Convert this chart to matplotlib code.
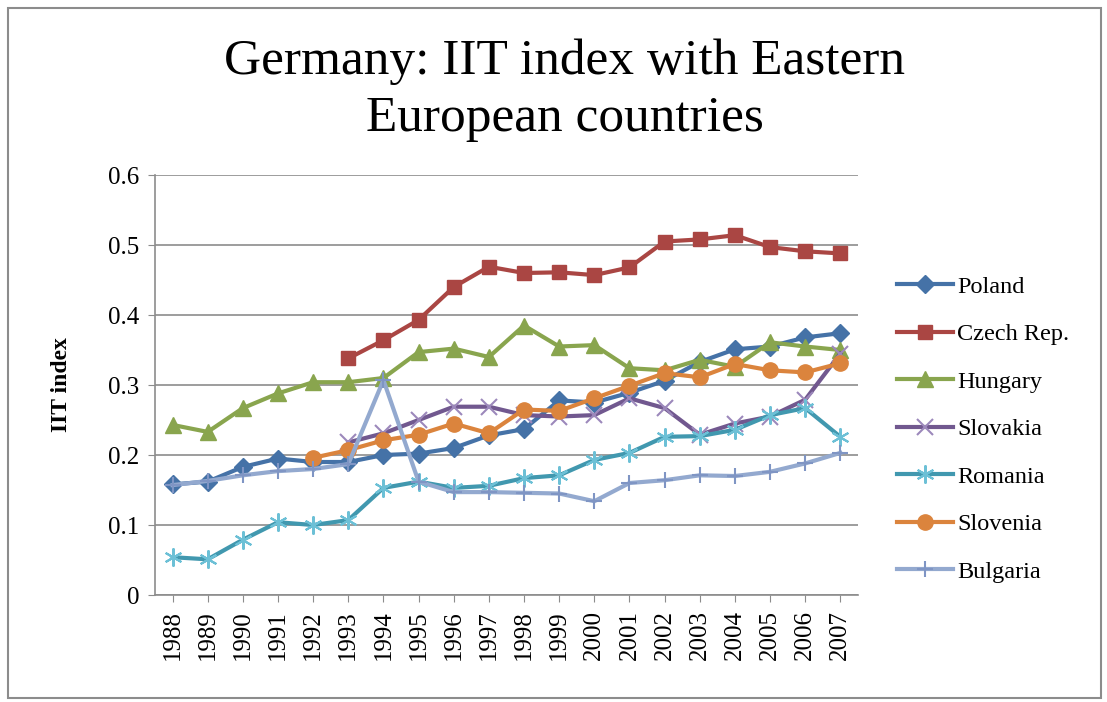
import numpy as np
import matplotlib.pyplot as plt
from matplotlib.patches import Rectangle

years = list(range(1988, 2008))

poland = [0.158, 0.162, 0.183, 0.195, 0.19, 0.19, 0.2, 0.202, 0.21, 0.228,
          0.237, 0.278, 0.275, 0.289, 0.306, 0.333, 0.351, 0.355, 0.368, 0.374]
czech = [None] * 5 + [0.338, 0.364, 0.393, 0.44, 0.469,
                      0.46, 0.461, 0.457, 0.468, 0.505, 0.508, 0.514, 0.497, 0.491, 0.488]
hungary = [0.243, 0.233, 0.267, 0.288, 0.304, 0.304, 0.31, 0.347, 0.352, 0.34,
           0.385, 0.355, 0.357, 0.324, 0.321, 0.336, 0.326, 0.361, 0.355, 0.35]
slovakia = [None] * 5 + [0.218, 0.231, 0.25, 0.269, 0.269,
                         0.257, 0.255, 0.257, 0.281, 0.267, 0.229, 0.245, 0.255, 0.279, 0.345]
romania = [0.054, 0.051, 0.079, 0.104, 0.1, 0.107, 0.153, 0.162, 0.153, 0.156,
           0.167, 0.171, 0.193, 0.203, 0.226, 0.227, 0.236, 0.257, 0.267, 0.226]
slovenia = [None] * 4 + [0.196, 0.207, 0.221, 0.229, 0.245, 0.231,
                         0.265, 0.263, 0.281, 0.299, 0.317, 0.311, 0.33, 0.321, 0.318, 0.331]
bulgaria = [0.157, 0.163, 0.171, 0.177, 0.18, 0.187, 0.307, 0.162, 0.147, 0.147,
            0.146, 0.145, 0.134, 0.16, 0.164, 0.171, 0.17, 0.176, 0.188, 0.203]

series = [
    ('Poland', poland, '#4572A7', 'D', '#4572A7', 9),
    ('Czech Rep.', czech, '#AA4643', 's', '#AA4643', 10),
    ('Hungary', hungary, '#89A54E', '^', '#89A54E', 11),
    ('Slovakia', slovakia, '#71588F', 'x', '#9C88BB', 11),
    ('Romania', romania, '#4198AF', (6, 2, 0), '#6CC0D6', 13),
    ('Slovenia', slovenia, '#DB843D', 'o', '#DB843D', 11),
    ('Bulgaria', bulgaria, '#93A9CF', '+', '#7F95C4', 12),
]

serif = ['Liberation Serif', 'DejaVu Serif']
plt.rcParams['font.family'] = serif

fig = plt.figure(figsize=(11.07, 7.02), dpi=100)
fig.patches.append(Rectangle((0.007, 0.006), 0.988, 0.982, transform=fig.transFigure,
                             fill=False, edgecolor='#8c8c8c', linewidth=1.5))
ax = fig.add_axes([0.14, 0.1524, 0.635, 0.5983])

x = np.arange(len(years))
for name, vals, col, mk, mec, ms in series:
    y = np.array([np.nan if v is None else v for v in vals])
    thin = mk in ('x', '+') or isinstance(mk, tuple)
    ax.plot(x, y, color=col, linewidth=3, marker=mk, markersize=ms,
            markerfacecolor=col, markeredgecolor=mec, markeredgewidth=1.5 if thin else 1,
            label=name, solid_joinstyle='round')

ax.set_ylim(0, 0.6)
ax.set_xlim(-0.5, len(years) - 0.5)
ax.set_yticks(np.arange(0, 0.61, 0.1))
ax.set_yticklabels(['0', '0.1', '0.2', '0.3', '0.4', '0.5', '0.6'], fontsize=18)
ax.set_xticks(x)
ax.set_xticklabels([str(v) for v in years], rotation=90, fontsize=18)
ax.tick_params(axis='both', length=5, color='#8c8c8c', pad=6)
ax.grid(axis='y', color='#8c8c8c', linewidth=1.2)
ax.set_axisbelow(True)
for s in ['top', 'right']:
    ax.spines[s].set_visible(False)
for s in ['left', 'bottom']:
    ax.spines[s].set_color('#8c8c8c')
    ax.spines[s].set_linewidth(1.2)
ax.set_ylabel('IIT index', fontsize=17, fontweight='bold', labelpad=26)

fig.text(0.51, 0.872, 'Germany: IIT index with Eastern\nEuropean countries', ha='center', va='center',
         fontsize=37, linespacing=1.3)

ax.legend(loc='center left', bbox_to_anchor=(1.025, 0.395), frameon=False, fontsize=17.5,
          handlelength=2.3, labelspacing=1.05, handletextpad=0.15)

plt.savefig('out.png', dpi=100)
